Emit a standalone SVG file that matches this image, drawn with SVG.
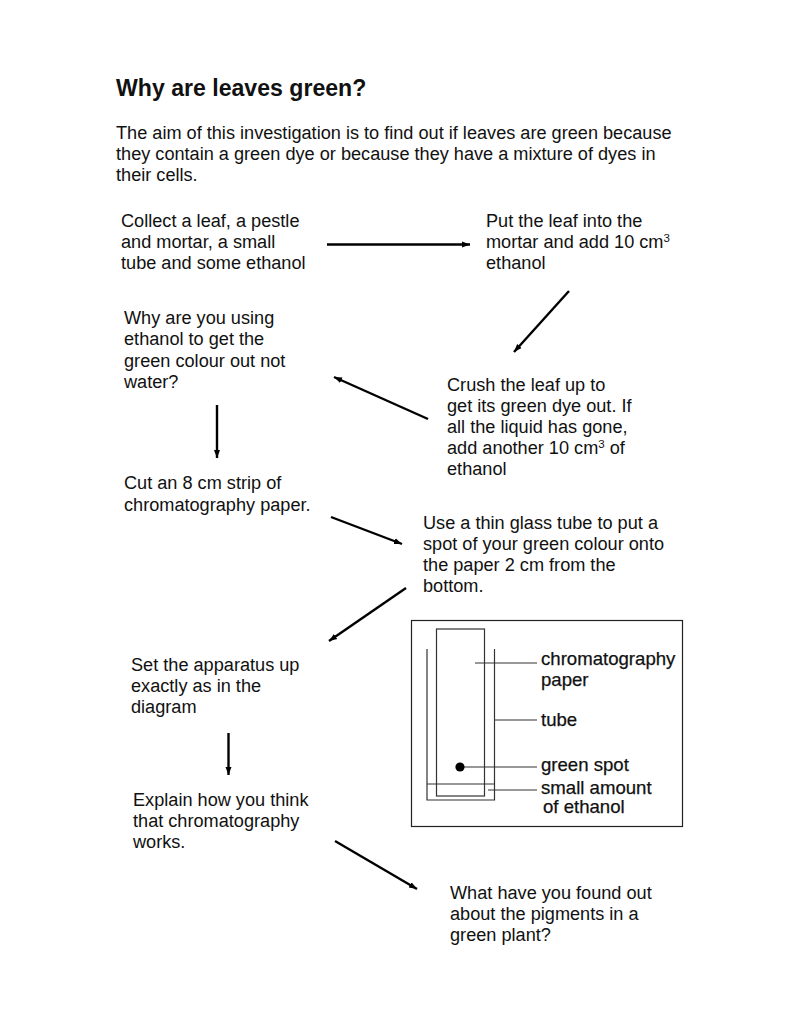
<svg xmlns="http://www.w3.org/2000/svg" width="791" height="1024" viewBox="0 0 791 1024">
<style>
text{font-family:"Liberation Sans",Arial,sans-serif;font-size:18.15px;fill:#111}
.h{font-size:23.1px;font-weight:bold}
.s{font-size:11.5px}
.l{font-size:18.6px;stroke:#111;stroke-width:.25px}
.a{stroke:#000;stroke-width:2.4;fill:none;marker-end:url(#ah)}
.d{stroke:#333;stroke-width:1.2;fill:none}
</style>
<defs><marker id="ah" markerUnits="userSpaceOnUse" markerWidth="9" markerHeight="8" refX="8" refY="4" orient="auto"><path d="M0 1L8 4L0 7z" fill="#000"/></marker></defs>
<rect width="791" height="1024" fill="#fff"/>
<g id="title"><text class="h" x="116" y="96">Why are leaves green?</text></g>
<g id="intro"><text x="116" y="139">The aim of this investigation is to find out if leaves are green because</text><text x="116" y="160">they contain a green dye or because they have a mixture of dyes in</text><text x="116" y="181">their cells.</text></g>
<g id="n1"><text x="121" y="227">Collect a leaf, a pestle</text><text x="121" y="248">and mortar, a small</text><text x="121" y="269">tube and some ethanol</text></g>
<g id="n2"><text x="486" y="227">Put the leaf into the</text><text x="486" y="248">mortar and add 10 cm<tspan class="s" dy="-6">3</tspan></text><text x="486" y="269">ethanol</text></g>
<g id="n3"><text x="124" y="324">Why are you using</text><text x="124" y="345">ethanol to get the</text><text x="124" y="367">green colour out not</text><text x="124" y="388">water?</text></g>
<g id="n4"><text x="447" y="391">Crush the leaf up to</text><text x="447" y="412">get its green dye out. If</text><text x="447" y="433">all the liquid has gone,</text><text x="447" y="454">add another 10 cm<tspan class="s" dy="-6">3</tspan><tspan dy="6"> of</tspan></text><text x="447" y="475">ethanol</text></g>
<g id="n5"><text x="124" y="489">Cut an 8 cm strip of</text><text x="124" y="511">chromatography paper.</text></g>
<g id="n6"><text x="423" y="529">Use a thin glass tube to put a</text><text x="423" y="550">spot of your green colour onto</text><text x="423" y="571">the paper 2 cm from the</text><text x="423" y="592">bottom.</text></g>
<g id="n7"><text x="131" y="671">Set the apparatus up</text><text x="131" y="692">exactly as in the</text><text x="131" y="713">diagram</text></g>
<g id="n8"><text x="133" y="806">Explain how you think</text><text x="133" y="827">that chromatography</text><text x="133" y="848">works.</text></g>
<g id="n9"><text x="450" y="899">What have you found out</text><text x="450" y="920">about the pigments in a</text><text x="450" y="941">green plant?</text></g>
<g id="connectors">
<path class="a" d="M327 244.500H470"/>
<path class="a" d="M569 291L514 352"/>
<path class="a" d="M428 419L334 377"/>
<path class="a" d="M217 405V458"/>
<path class="a" d="M331 517L402 544"/>
<path class="a" d="M406 588L329 641"/>
<path class="a" d="M228.500 733V775"/>
<path class="a" d="M335 841L417 889"/>
</g>
<g id="apparatus">
<rect x="411.500" y="620.500" width="271" height="206" fill="none" stroke="#222" stroke-width="1.2"/>
<rect class="d" x="436.500" y="629" width="48" height="167"/>
<path class="d" d="M427 649V800H494.500V649M427 784H494.500M475 663H537M495 720H537M460 767H537M488 790H537"/>
<circle cx="460" cy="767" r="4.6" fill="#000"/>
<text class="l" x="541" y="665">chromatography</text><text class="l" x="541" y="686">paper</text><text class="l" x="541" y="726">tube</text><text class="l" x="541" y="771">green spot</text><text class="l" x="541" y="794">small amount</text><text class="l" x="543" y="813">of ethanol</text>
</g>
</svg>
